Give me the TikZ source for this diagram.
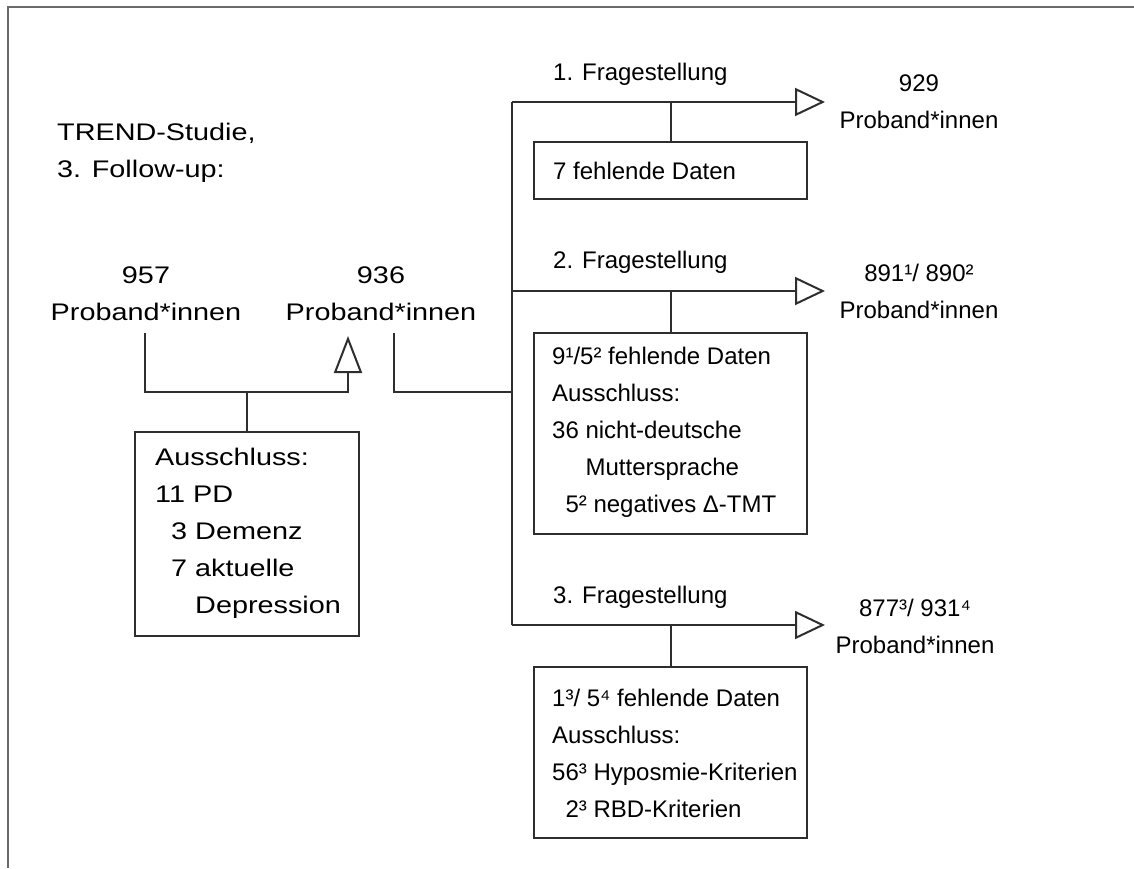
\documentclass[tikz,border=0pt]{standalone}
\usepackage{fontspec}
\setmainfont{Liberation Sans}
\newfontfamily\widefont[FakeStretch=1.2]{Liberation Sans}
\usetikzlibrary{arrows.meta}
\definecolor{lc}{HTML}{2E2E2E}
\definecolor{fc}{HTML}{6A6A6A}
\begin{document}
\begin{tikzpicture}[x=1pt,y=-1pt,
  line/.style={draw=lc, line width=2pt},
  frame/.style={draw=fc, line width=2.2pt},
  box/.style={draw=lc, line width=2.2pt, anchor=north west, inner sep=0pt},
  txt/.style={inner sep=0pt, align=left, anchor=base west, text=black, font=\fontsize{24pt}{37pt}\selectfont},
  ctxt/.style={inner sep=0pt, align=center, anchor=base, text=black, font=\fontsize{24pt}{36.5pt}\selectfont},
  wtxt/.style={inner sep=0pt, align=left, anchor=base west, text=black, font=\widefont\fontsize{24pt}{37pt}\selectfont},
  wctxt/.style={inner sep=0pt, align=center, anchor=base, text=black, font=\widefont\fontsize{24pt}{37pt}\selectfont},
  upT/.style={-{Triangle[open,length=37pt,width=28pt]}},
  rightT/.style={-{Triangle[open,length=30pt,width=28pt]}}]
\useasboundingbox (0,0) rectangle (1134,868);
\draw[frame] (1134,7) -- (8,7) -- (8,868);

% left part (anchor base = baseline of the last line)
\node[wtxt] (title) at (57,177) {TREND-Studie,\\3. Follow-up:};
\node[wctxt] (n957) at (146,320) {957\\Proband*innen};
\node[wctxt] (n936) at (381,320) {936\\Proband*innen};
\node[box, minimum width=224pt, minimum height=204pt] (b0) at (134,431) {};
\node[wtxt] (t0) at (155,613) {Ausschluss:\\11 PD\\\phantom{1}3 Demenz\\\phantom{1}7 aktuelle\\\phantom{17 }Depression};

% right part
\node[txt] (q1) at (553,80) {1. Fragestellung};
\node[txt] (q2) at (553,268) {2. Fragestellung};
\node[txt] (q3) at (553,603) {3. Fragestellung};
\node[ctxt] (r1) at (919,128) {929\\Proband*innen};
\node[ctxt] (r2) at (919,318) {891¹/ 890²\\Proband*innen};
\node[ctxt] (r3) at (915,653) {877³/ 931⁴\\Proband*innen};
\node[box, minimum width=273pt, minimum height=57pt] (b1) at (533,141) {};
\node[box, minimum width=273pt, minimum height=201pt] (b2) at (533,332) {};
\node[box, minimum width=273pt, minimum height=171pt] (b3) at (533,666) {};
\node[txt] (t1) at (553,179) {7 fehlende Daten};
\node[txt] (t2) at (552,512) {9¹/5² fehlende Daten\\Ausschluss:\\36 nicht-deutsche\\\phantom{36 }Muttersprache\\\phantom{3}5² negatives Δ-TMT};
\node[txt] (t3) at (552,817) {1³/ 5⁴ fehlende Daten\\Ausschluss:\\56³ Hyposmie-Kriterien\\\phantom{5}2³ RBD-Kriterien};

% connector points
\coordinate (s957) at (145,333);
\coordinate (a936) at (348,336);
\coordinate (j0) at (247,392);
\coordinate (s936) at (394,333);
\coordinate (trTop) at (512,102);
\coordinate (trMid) at (512,291);
\coordinate (trJoin) at (512,392);
\coordinate (trBot) at (512,625);
\coordinate (a1) at (825,102);
\coordinate (a2) at (825,291);
\coordinate (a3) at (825,625);

\draw[line, upT] (s957) |- (a936 |- j0) -- (a936);
\draw[line] (b0.north |- j0) -- (b0.north);
\draw[line] (s936) |- (trJoin);
\draw[line] (trTop) -- (trBot);
\draw[line, rightT] (trTop) -- (a1);
\draw[line, rightT] (trMid) -- (a2);
\draw[line, rightT] (trBot) -- (a3);
\draw[line] (b1.north |- trTop) -- (b1.north);
\draw[line] (b2.north |- trMid) -- (b2.north);
\draw[line] (b3.north |- trBot) -- (b3.north);
\end{tikzpicture}
\end{document}
